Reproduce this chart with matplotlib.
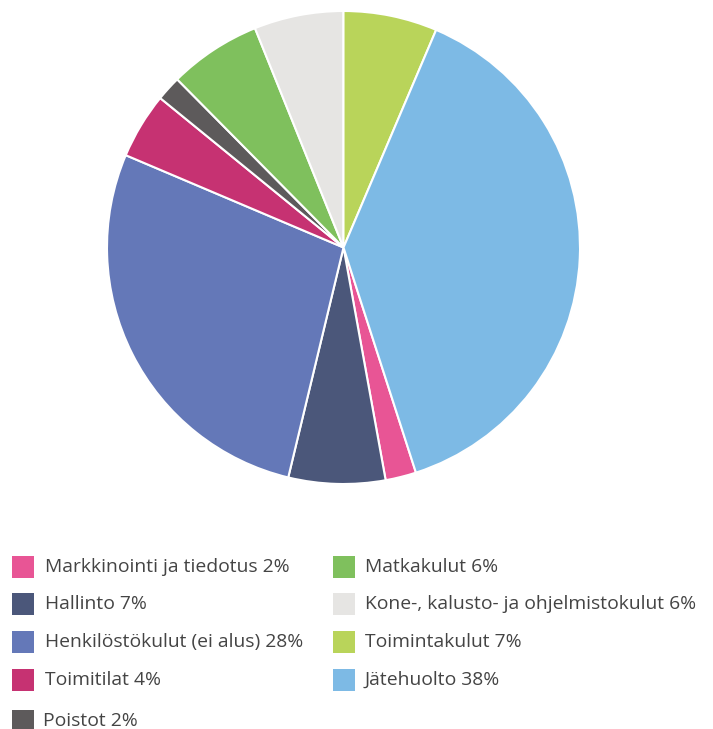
import matplotlib
matplotlib.use("Agg")
import matplotlib.pyplot as plt
from matplotlib.patches import Rectangle

# Data (legend order, clockwise in the pie)
labels = ["Markkinointi ja tiedotus 2%", "Hallinto 7%", "Henkilöstökulut (ei alus) 28%",
          "Toimitilat 4%", "Poistot 2%", "Matkakulut 6%",
          "Kone-, kalusto- ja ohjelmistokulut 6%", "Toimintakulut 7%", "Jätehuolto 38%"]
values = [2.1, 6.6, 27.6, 4.5, 1.7, 6.3, 6.1, 6.4, 38.6]
colors = ["#E85595", "#4B577A", "#6478B8", "#C63272", "#5D5A5B",
          "#7FC05D", "#E6E5E3", "#B9D45A", "#7DBAE5"]

W, H = 713, 729
fig = plt.figure(figsize=(W / 100, H / 100), dpi=100)

cx, cy, r = 343.5, 247.5, 236.5
ax = fig.add_axes([(cx - r) / W, (H - cy - r) / H, 2 * r / W, 2 * r / H])
total = sum(values)
start = 90 - 360 * (values[-1] + values[-2]) / total
ax.pie(values, colors=colors, startangle=start, counterclock=False, radius=1,
       wedgeprops=dict(edgecolor="white", linewidth=1.5))
ax.set_xlim(-1, 1)
ax.set_ylim(-1, 1)
ax.set_aspect("equal")
ax.axis("off")

# Legend (manual)
rows_y = [567, 604, 642, 680, 721]
positions = []
for i in range(4):
    positions.append((12, 45, rows_y[i]))
positions.append((12, 43, rows_y[4]))
for i in range(4):
    positions.append((333, 365, rows_y[i]))
sq = 22
for (sx, tx, y), lab, col in zip(positions, labels, colors):
    fig.patches.append(Rectangle((sx / W, (H - y - sq / 2) / H), sq / W, sq / H,
                                 transform=fig.transFigure, facecolor=col,
                                 edgecolor="none"))
    fig.text(tx / W, (H - y) / H, lab, fontsize=13.9, color="#444444",
             va="center", ha="left", family=['Open Sans', 'DejaVu Sans'])

fig.savefig("out.png", dpi=100)
